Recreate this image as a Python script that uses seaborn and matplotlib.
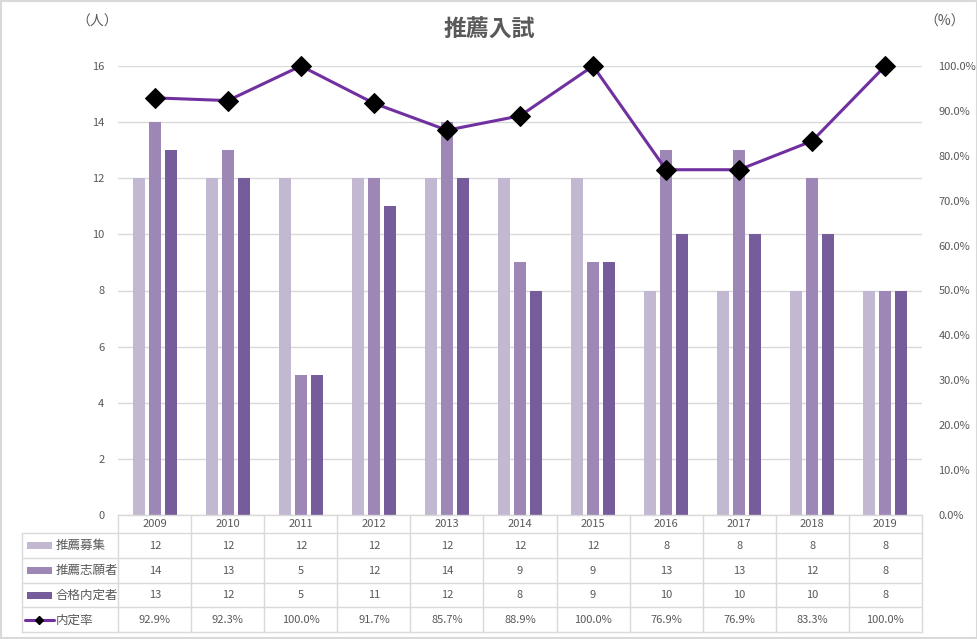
import numpy as np
import pandas as pd
import matplotlib
matplotlib.use("Agg")
import matplotlib.pyplot as plt
import matplotlib.transforms as mtransforms
from matplotlib.lines import Line2D
from matplotlib.patches import Rectangle
import seaborn as sns

# ---- data ----
years = ["2009", "2010", "2011", "2012", "2013", "2014", "2015", "2016", "2017", "2018", "2019"]
boshu = [12, 12, 12, 12, 12, 12, 12, 8, 8, 8, 8]          # 推薦募集
shigan = [14, 13, 5, 12, 14, 9, 9, 13, 13, 12, 8]         # 推薦志願者
gokaku = [13, 12, 5, 11, 12, 8, 9, 10, 10, 10, 8]         # 合格内定者
rate = [92.9, 92.3, 100.0, 91.7, 85.7, 88.9, 100.0, 76.9, 76.9, 83.3, 100.0]  # 内定率 (%)
series_names = ["推薦募集", "推薦志願者", "合格内定者"]
rate_name = "内定率"
title = "推薦入試"

colors = ["#C3B8D1", "#9C87B6", "#775C9B"]
line_color = "#7030A0"
grid_color = "#D9D9D9"
text_color = "#595959"

sns.set_style("white")
plt.rcParams["font.family"] = ["Noto Sans CJK JP", "DejaVu Sans"]

W, H = 978, 639
fig = plt.figure(figsize=(W / 100, H / 100), dpi=100)

def fx(px):
    return px / W

def fy(py):
    return 1 - py / H

ax_left, ax_right, ax_top, ax_bot = 118.3, 921.7, 66, 515
ax = fig.add_axes([fx(ax_left), fy(ax_bot), fx(ax_right - ax_left), fy(ax_top) - fy(ax_bot)])

df = pd.DataFrame({
    "year": sum([[y] * 3 for y in years], []),
    "series": series_names * len(years),
    "value": sum([[a, b, c] for a, b, c in zip(boshu, shigan, gokaku)], []),
})

sns.barplot(data=df, x="year", y="value", hue="series", hue_order=series_names,
            order=years, palette=colors, width=0.655, gap=0.25, ax=ax,
            legend=False, saturation=1, edgecolor="none", linewidth=0)

ax.set_xlim(-0.5, len(years) - 0.5)
ax.set_ylim(0, 16)
ax.set_yticks(range(0, 17, 2))
ax.yaxis.grid(True, color=grid_color, linewidth=1)
ax.set_axisbelow(True)
ax.set_xlabel("")
ax.set_ylabel("")
ax.set_xticks([])
for s in ["left", "right", "top"]:
    ax.spines[s].set_visible(False)
ax.spines["bottom"].set_color(grid_color)
ax.spines["bottom"].set_linewidth(1)
ax.tick_params(axis="y", length=0, pad=10, labelsize=8, labelcolor=text_color)

ax2 = ax.twinx()
sns.lineplot(x=list(range(len(years))), y=[r / 100 for r in rate], ax=ax2,
             color=line_color, linewidth=2.2, marker="D", markersize=10,
             markerfacecolor="black", markeredgecolor="black", clip_on=False,
             zorder=5)
ax2.set_ylim(0, 1)
ax2.set_yticks(np.linspace(0, 1, 11))
ax2.set_yticklabels([f"{v:.1f}%" for v in np.linspace(0, 100, 11)])
ax2.tick_params(axis="y", length=0, pad=12, labelsize=8, labelcolor=text_color)
for s in ["left", "right", "top", "bottom"]:
    ax2.spines[s].set_visible(False)
ax2.set_xlim(-0.5, len(years) - 0.5)

# ---- titles / units ----
fig.text(fx(489), fy(30), title, ha="center", va="center", fontsize=16.5,
         fontweight="bold", color=text_color)
fig.text(fx(97), fy(22), "（人）", ha="center", va="center", fontsize=10, color=text_color)
fig.text(fx(945), fy(22), "（%）", ha="center", va="center", fontsize=10, color=text_color)

# ---- data table ----
bt = mtransforms.blended_transform_factory(ax.transData, fig.transFigure)
rows_y = [515, 533.3, 558.3, 582.7, 607.3, 632.3]
n = len(years)
leg_left = fx(22.5)

for yy in rows_y[1:]:
    fig.add_artist(Line2D([leg_left, fx(ax_right)], [fy(yy), fy(yy)],
                          color=grid_color, linewidth=1, transform=fig.transFigure))
for k in range(n + 1):
    fig.add_artist(Line2D([k - 0.5, k - 0.5], [fy(rows_y[0]), fy(rows_y[-1])],
                          color=grid_color, linewidth=1, transform=bt))
fig.add_artist(Line2D([leg_left, leg_left], [fy(rows_y[1]), fy(rows_y[-1])],
                      color=grid_color, linewidth=1, transform=fig.transFigure))

def row_center(i):
    return fy((rows_y[i] + rows_y[i + 1]) / 2)

for k, y in enumerate(years):
    fig.text(k, row_center(0), y, transform=bt, ha="center", va="center",
             fontsize=8, color=text_color)
for r, vals in enumerate([boshu, shigan, gokaku]):
    for k, v in enumerate(vals):
        fig.text(k, row_center(r + 1), str(v), transform=bt, ha="center",
                 va="center", fontsize=8, color=text_color)
for k, v in enumerate(rate):
    fig.text(k, row_center(4), f"{v:.1f}%", transform=bt, ha="center",
             va="center", fontsize=8, color=text_color)

for r, (name, c) in enumerate(zip(series_names, colors)):
    yc = (rows_y[r + 1] + rows_y[r + 2]) / 2
    fig.add_artist(Rectangle((fx(27), fy(yc + 3.5)), fx(25), fy(yc - 3.5) - fy(yc + 3.5),
                             facecolor=c, edgecolor="none", transform=fig.transFigure))
    fig.text(fx(56), fy(yc), name, ha="left", va="center", fontsize=9, color=text_color)
yc = (rows_y[4] + rows_y[5]) / 2
fig.add_artist(Line2D([fx(25), fx(54)], [fy(yc), fy(yc)], color=line_color,
                      linewidth=2.2, transform=fig.transFigure))
fig.add_artist(Line2D([fx(39.5)], [fy(yc)], marker="D", markersize=4.5, color="black",
                      linestyle="none", transform=fig.transFigure))
fig.text(fx(56), fy(yc), rate_name, ha="left", va="center", fontsize=9, color=text_color)

fig.add_artist(Rectangle((0.001, 0.001), 0.998, 0.997, facecolor="none",
                         edgecolor=grid_color, linewidth=1.5, transform=fig.transFigure))

fig.savefig("out.png", dpi=100, facecolor="white")
